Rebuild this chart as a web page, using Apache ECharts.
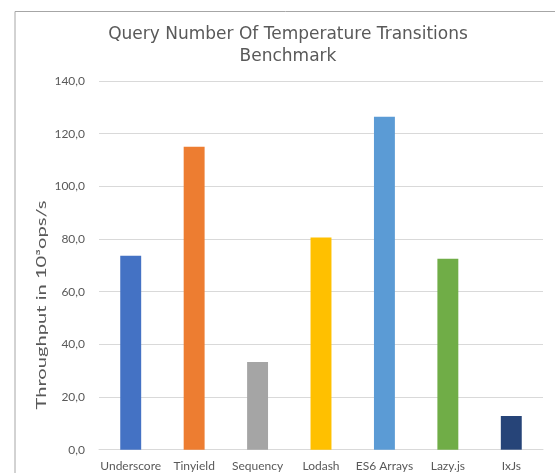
<!DOCTYPE html>
<html>
<head>
<meta charset="utf-8">
<script src="https://cdn.jsdelivr.net/npm/echarts@6/dist/echarts.min.js"></script>
<style>
html,body{margin:0;padding:0;background:#fff;}
#chart{width:555px;height:473px;}
</style>
</head>
<body>
<div id="chart"></div>
<script>
const categories = ['Underscore', 'Tinyield', 'Sequency', 'Lodash', 'ES6 Arrays', 'Lazy.js', 'IxJs'];
const values = [73.6, 115.0, 33.3, 80.6, 126.4, 72.5, 12.8];
const barColors = ['#4472C4', '#ED7D31', '#A5A5A5', '#FFC000', '#5B9BD5', '#70AD47', '#264478'];
const yTicks = { min: 0, max: 140, interval: 20 };
const titleText = 'Query Number Of Temperature Transitions\nBenchmark';
const yAxisName = 'Throughput in 10\u00B3ops/s';

const chart = echarts.init(document.getElementById('chart'), null, { renderer: 'canvas' });
chart.setOption({
  animation: false,
  backgroundColor: '#ffffff',
  graphic: [{
    type: 'rect',
    shape: { x: 15, y: 11.5, width: 600, height: 600 },
    style: { fill: 'none', stroke: '#a6a6a6', lineWidth: 1 },
    silent: true
  }, {
    type: 'text',
    x: 42,
    y: 305,
    rotation: Math.PI / 2,
    scaleX: 1.55,
    style: {
      text: yAxisName,
      fill: '#595959',
      font: '13px Lato',
      align: 'center',
      verticalAlign: 'middle'
    },
    silent: true
  }],
  title: {
    text: titleText,
    left: 283,
    textAlign: 'center',
    top: 19,
    textStyle: {
      fontFamily: 'DejaVu Sans',
      fontSize: 17,
      fontWeight: 'normal',
      color: '#595959',
      lineHeight: 22
    }
  },
  grid: { left: 99, right: 12, top: 81, bottom: 23.3, containLabel: false },
  xAxis: {
    type: 'category',
    data: categories,
    axisLine: { show: true, lineStyle: { color: '#d9d9d9', width: 1 } },
    axisTick: { show: false },
    axisLabel: { color: '#595959', fontFamily: 'Lato', fontSize: 12, margin: 10, interval: 0 }
  },
  yAxis: {
    type: 'value',
    min: yTicks.min,
    max: yTicks.max,
    interval: yTicks.interval,
    axisLine: { show: false },
    axisTick: { show: false },
    splitLine: { lineStyle: { color: '#d9d9d9', width: 1 } },
    axisLabel: {
      color: '#595959', fontFamily: 'Lato', fontSize: 12, margin: 14,
      formatter: v => v.toFixed(1).replace('.', ',')
    }
  },
  series: [{
    type: 'bar',
    data: values.map((v, i) => ({ value: v, itemStyle: { color: barColors[i] } })),
    barWidth: '33%'
  }]
});
</script>
</body>
</html>
